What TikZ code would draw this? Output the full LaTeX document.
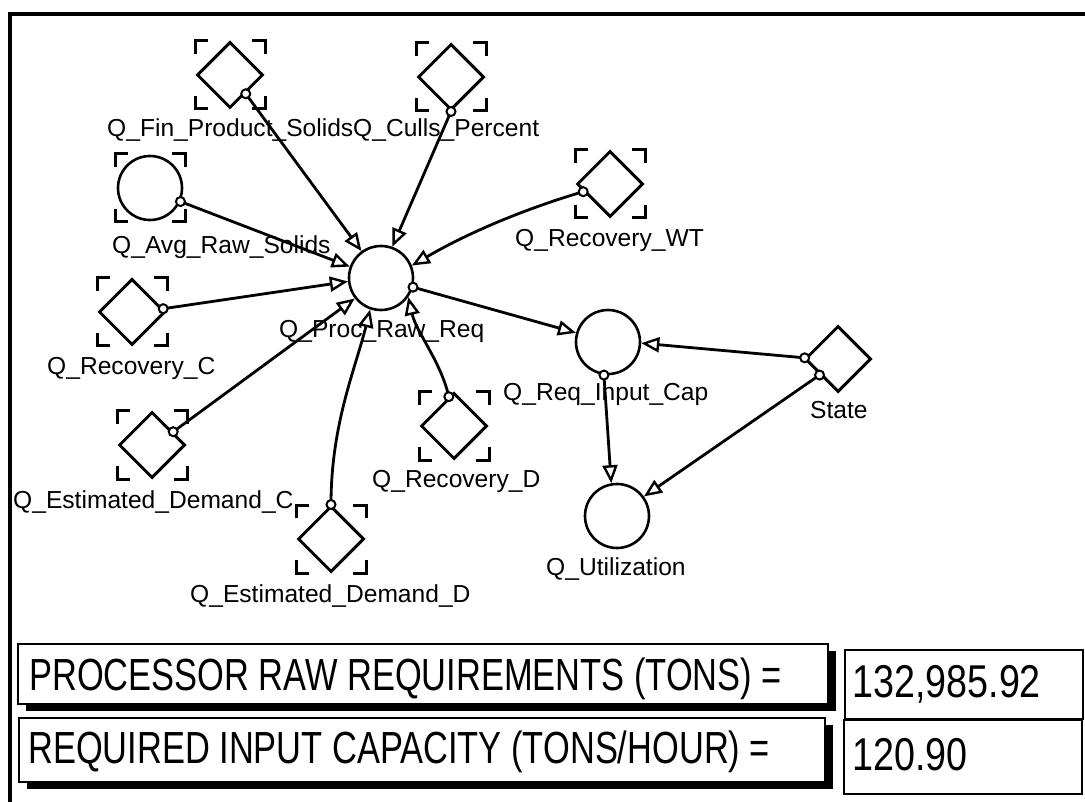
\documentclass[tikz,border=0pt]{standalone}
\usepackage{fontspec}
\setmainfont{Liberation Sans}
\usetikzlibrary{shapes.geometric,arrows.meta,calc,shadows}
\newcommand\brackmarks[1]{%
  \draw[brk] ($(#1)+(-35,-21)$) -- ($(#1)+(-35,-34)$) -- ($(#1)+(-22,-34)$);
  \draw[brk] ($(#1)+(22,-34)$) -- ($(#1)+(35,-34)$) -- ($(#1)+(35,-21)$);
  \draw[brk] ($(#1)+(-35,21)$) -- ($(#1)+(-35,34)$) -- ($(#1)+(-22,34)$);
  \draw[brk] ($(#1)+(22,34)$) -- ($(#1)+(35,34)$) -- ($(#1)+(35,21)$);}
\begin{document}
\begin{tikzpicture}[x=1pt,y=-1pt,
  con/.style={diamond, draw, line width=3pt, minimum size=66pt, inner sep=0pt, fill=white},
  aux/.style={circle, draw, line width=2.6pt, minimum size=64pt, inner sep=0pt, fill=white},
  lbl/.style={anchor=base west, inner sep=0pt, font=\fontsize{24.6}{28}\selectfont},
  link/.style={line width=2.8pt, -{Triangle[open, length=18pt, width=15pt, line width=2.4pt]}},
  src/.style={line width=2pt, fill=white},
  brk/.style={line width=3pt},
  panel/.style={draw, line width=2.2pt, fill=white, anchor=north west, inner sep=0pt,
    drop shadow={shadow xshift=8pt, shadow yshift=-7pt, fill=black, opacity=1}},
  valbox/.style={draw, line width=2.2pt, fill=white, anchor=north west, inner sep=0pt},
  bigtxt/.style={anchor=base west, inner sep=0pt, font=\fontsize{45}{50}\selectfont},
  valtxt/.style={anchor=base west, inner sep=0pt, font=\fontsize{46}{50}\selectfont}]
\useasboundingbox (0,0) rectangle (1085,802);
\fill[white] (0,0) rectangle (1085,802);
% frame
\draw[line width=4.5pt] (10,802) -- (10,14) -- (1085,14);

% nodes
\node[con] (fin) at (230,75) {};
\node[con] (culls) at (451,77) {};
\node[aux] (avg) at (150,188) {};
\node[con] (wt) at (610,184) {};
\node[con] (recc) at (132,312) {};
\node[aux] (proc) at (381,278) {};
\node[con] (estc) at (152,445) {};
\node[con] (estd) at (331,539) {};
\node[con] (recd) at (454,426) {};
\node[aux] (reqcap) at (608,342) {};
\node[con] (state) at (838,359) {};
\node[aux] (util) at (617,516) {};

\brackmarks{fin}\brackmarks{culls}\brackmarks{avg}\brackmarks{wt}
\brackmarks{recc}\brackmarks{estc}\brackmarks{estd}\brackmarks{recd}

% labels
\node[lbl] (lfin) at (107,137) {Q\_Fin\_Product\_Solids};
\node[lbl] (lculls) at (353,137) {Q\_Culls\_Percent};
\node[lbl] (lavg) at (112,254) {Q\_Avg\_Raw\_Solids};
\node[lbl] (lwt) at (515,247) {Q\_Recovery\_WT};
\node[lbl] (lrecc) at (47,374) {Q\_Recovery\_C};
\node[lbl] (lproc) at (279,338) {Q\_Proc\_Raw\_Req};
\node[lbl] (lestc) at (13,508) {Q\_Estimated\_Demand\_C};
\node[lbl] (lestd) at (190,602) {Q\_Estimated\_Demand\_D};
\node[lbl] (lrecd) at (372,487) {Q\_Recovery\_D};
\node[lbl] (lreqcap) at (503,400) {Q\_Req\_Input\_Cap};
\node[lbl] (lstate) at (810,418) {State};
\node[lbl] (lutil) at (546,575) {Q\_Utilization};

% connectors
\draw[link] (fin.-50) -- (proc.126);
\draw[link] (culls.270) -- (proc.70);
\draw[link] (avg.-24) -- (proc.160);
\draw[link] (wt.196) .. controls +(-61,18) and +(55,-32) .. (proc.22);
\draw[link] (recc.6) -- (proc.186);
\draw[link] (estc.32) -- (proc.218);
\draw[link] (estd.90) .. controls +(0,-80) and +(-15,60) .. (proc.251);
\draw[link] (recd.100) .. controls +(-8,-35) and +(8,35) .. (proc.325);
\draw[link] (proc.344) -- (reqcap.164);
\draw[link] (state.178) -- (reqcap.-2);
\draw[link] (reqcap.263) -- (util.100);
\draw[link] (state.221) -- (util.36);

% source dots
\foreach \a in {fin.-50, culls.270, avg.-24, wt.196, recc.6, estc.32, estd.90,
  recd.100, proc.344, state.178, reqcap.263, state.221}
  \draw[src] (\a) circle (4.5pt);

% bottom panels
\node[panel, minimum width=810pt, minimum height=60pt] (box1) at (17,643) {};
\node[panel, minimum width=806pt, minimum height=64pt] (box2) at (18,717) {};
\node[bigtxt] (t1) at (29,690) {\scalebox{0.765}[1]{PROCESSOR RAW REQUIREMENTS (TONS) =}};
\node[bigtxt] (t2) at (28,763) {\scalebox{0.765}[1]{REQUIRED INPUT CAPACITY (TONS/HOUR) =}};
\node[valbox, minimum width=238pt, minimum height=69pt] (v1) at (844,649) {};
\node[valbox, minimum width=238pt, minimum height=74pt] (v2) at (843,719) {};
\node[valtxt] (n1) at (852,697) {\scalebox{0.82}[1]{132,985.92}};
\node[valtxt] (n2) at (852,770) {\scalebox{0.82}[1]{120.90}};
\end{tikzpicture}
\end{document}
